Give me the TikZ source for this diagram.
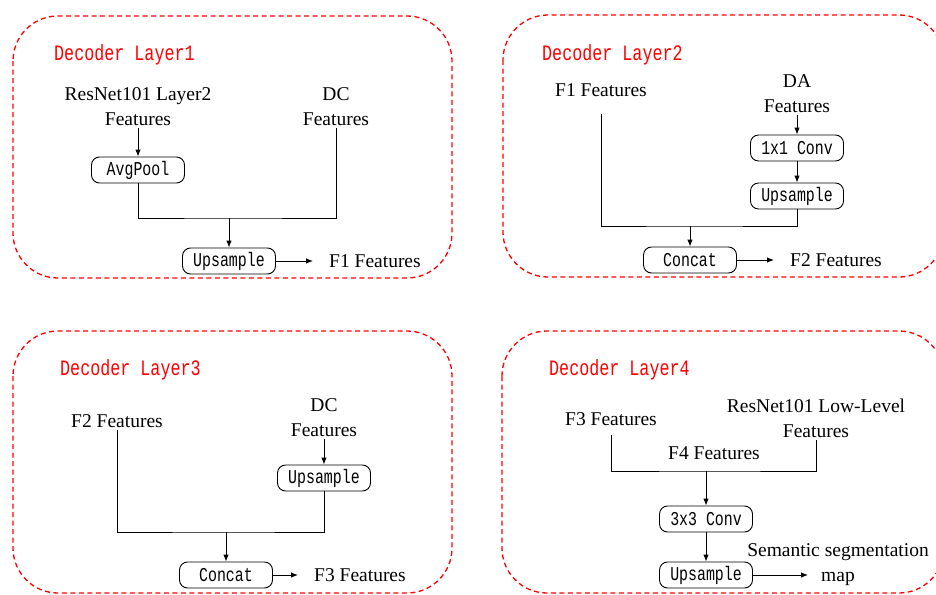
\documentclass[tikz,border=0pt]{standalone}
\usepackage{fontspec}
\setmainfont{Liberation Serif}
\newfontfamily\opmono{Liberation Mono}[FakeStretch=0.76]
\usetikzlibrary{arrows.meta}

\tikzset{
  panel/.style={draw=red, dash pattern=on 5pt off 3.5pt, line width=1.3pt, rounded corners=45pt},
  layertitle/.style={anchor=west, text=red, inner sep=0pt, font=\opmono\fontsize{22}{24}\selectfont},
  feat/.style={align=center, inner sep=2pt, font=\fontsize{19.5}{25}\selectfont},
  opbox/.style={draw, rounded corners=8pt, minimum width=93pt, minimum height=26pt, inner sep=0pt, line width=0.9pt, font=\opmono\fontsize{19.6}{21}\selectfont},
  link/.style={line width=0.9pt},
  arr/.style={-{Latex[length=7pt,width=5.5pt]}, line width=0.9pt}
}

\begin{document}
\begin{tikzpicture}[x=1pt,y=-1pt]
  \useasboundingbox (0,0) rectangle (936,594);
  \clip (0,0) rectangle (936,594);

  % Panels
  \draw[panel] (13,16) rectangle (452,278);
  \draw[panel] (503,15) rectangle (944,277);
  \draw[panel] (13,331) rectangle (452,593);
  \draw[panel] (502,331) rectangle (944,593);

  % Decoder layer 1
  \node[layertitle] (title1) at (54,55) {Decoder Layer1};
  \node[feat] (res1) at (138,107) {ResNet101 Layer2\\Features};
  \node[feat] (dc1) at (336,107) {DC\\Features};
  \node[opbox] (avgpool) at (138,170) {AvgPool};
  \node[opbox] (up1) at (229,261) {Upsample};
  \node[feat, anchor=west] (f1out) at (327,261) {F1 Features};
  \coordinate (j1) at (229,218);
  \draw[arr] (res1) -- (avgpool);
  \draw[link] (avgpool) |- (j1) -| (dc1);
  \draw[arr] (j1) -- (up1);
  \draw[arr, shorten >=14pt] (up1) -- (f1out);

  % Decoder layer 2
  \node[layertitle] (title2) at (542,55) {Decoder Layer2};
  \node[feat] (f1in) at (601,90) {F1 Features};
  \node[feat] (da2) at (797,94) {DA\\Features};
  \node[opbox] (conv2) at (797,148) {1x1 Conv};
  \node[opbox] (up2) at (797,196) {Upsample};
  \node[opbox] (concat2) at (690,260) {Concat};
  \node[feat, anchor=west] (f2out) at (788,260) {F2 Features};
  \coordinate (j2) at (690,226);
  \draw[arr] (da2) -- (conv2);
  \draw[arr] (conv2) -- (up2);
  \draw[link, shorten <=15pt] (f1in) |- (j2) -| (up2);
  \draw[arr] (j2) -- (concat2);
  \draw[arr, shorten >=14pt] (concat2) -- (f2out);

  % Decoder layer 3
  \node[layertitle] (title3) at (60,370) {Decoder Layer3};
  \node[feat] (f2in) at (117,421) {F2 Features};
  \node[feat] (dc3) at (324,418) {DC\\Features};
  \node[opbox] (up3) at (324,478) {Upsample};
  \node[opbox] (concat3) at (226,575) {Concat};
  \node[feat, anchor=west] (f3out) at (312,575) {F3 Features};
  \coordinate (j3) at (226,532);
  \draw[arr] (dc3) -- (up3);
  \draw[link] (f2in) |- (j3) -| (up3);
  \draw[arr] (j3) -- (concat3);
  \draw[arr, shorten >=14pt] (concat3) -- (f3out);

  % Decoder layer 4
  \node[layertitle] (title4) at (549,370) {Decoder Layer4};
  \node[feat] (f3in) at (611,419) {F3 Features};
  \node[feat] (res4) at (816,418) {ResNet101 Low-Level\\Features};
  \node[feat] (f4mid) at (714,453) {F4 Features};
  \node[opbox] (conv4) at (706,519) {3x3 Conv};
  \node[opbox] (up4) at (706,575) {Upsample};
  \node[feat] (seg) at (838,565) {Semantic segmentation\\map};
  \coordinate (j4) at (706,471);
  \coordinate (segin) at (808,575);
  \draw[link, shorten <=7pt] (f3in) |- (j4) -| (res4);
  \draw[arr] (j4) -- (conv4);
  \draw[arr] (conv4) -- (up4);
  \draw[arr] (up4) -- (segin);
\end{tikzpicture}
\end{document}
